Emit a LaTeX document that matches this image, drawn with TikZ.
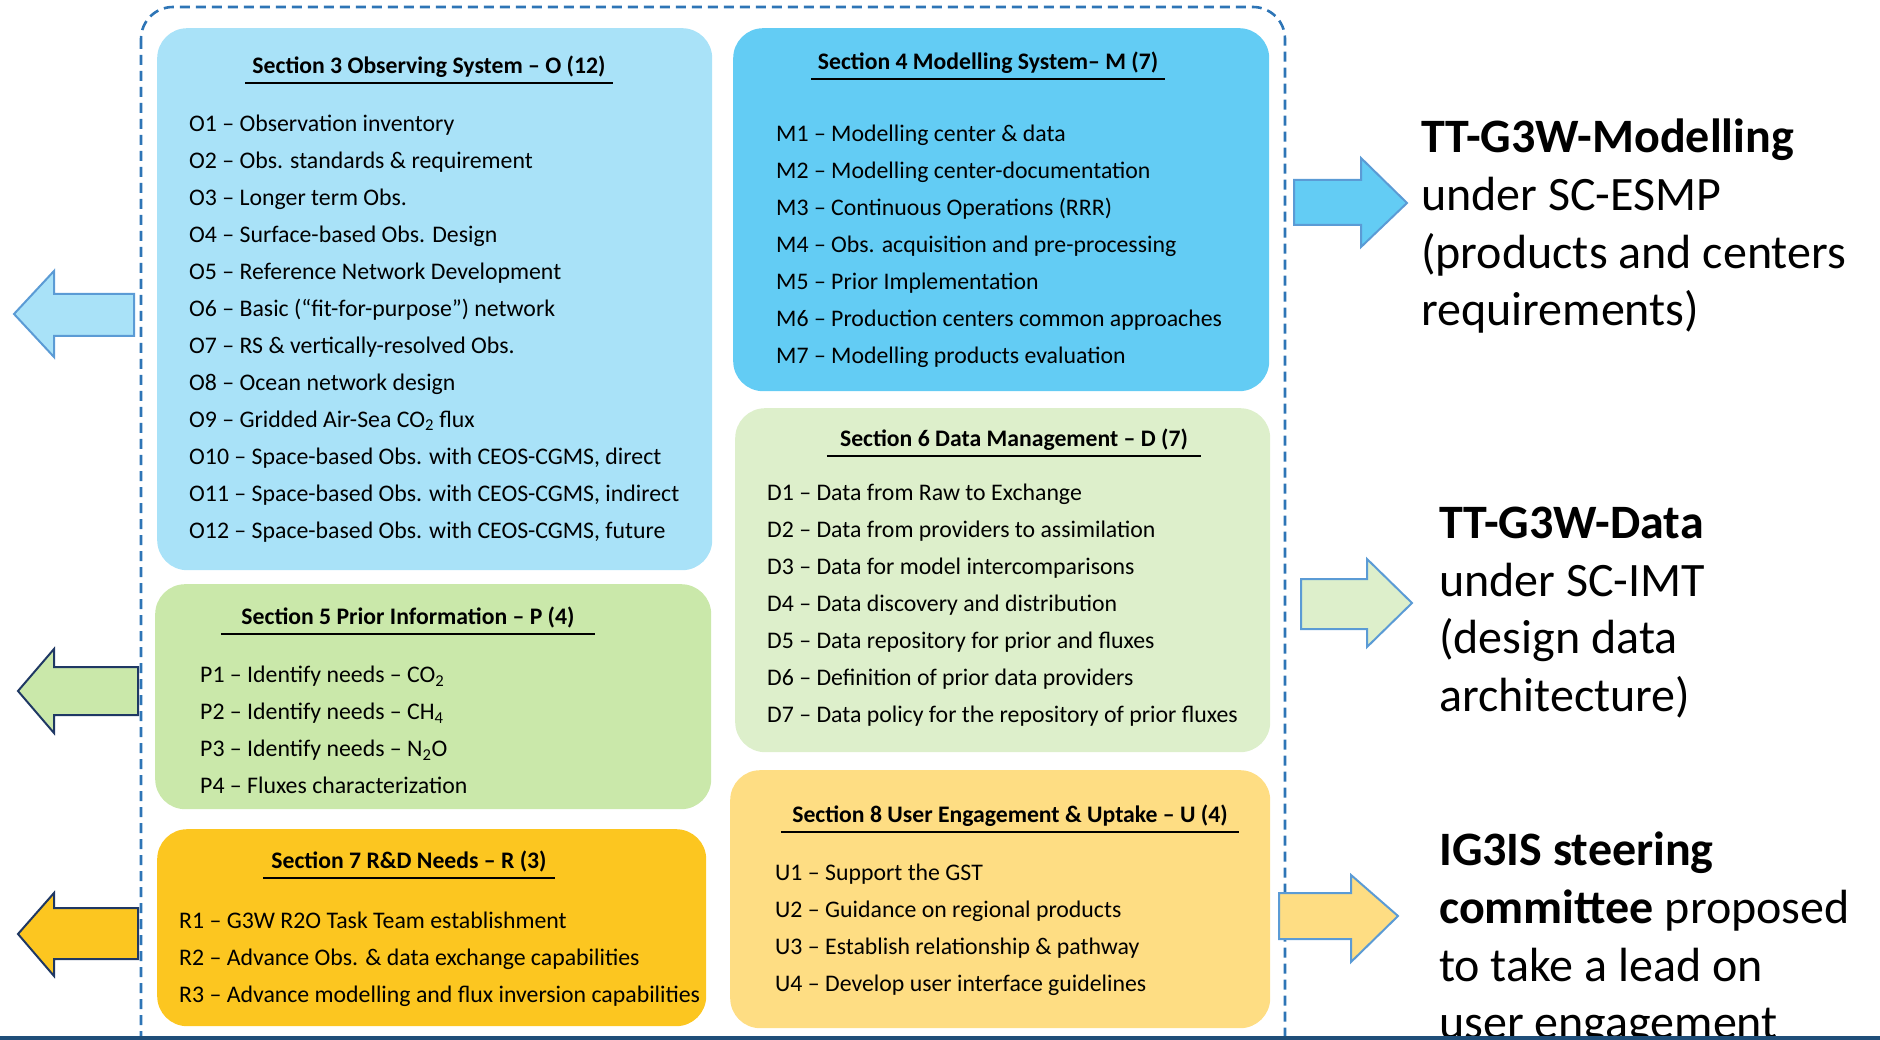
\documentclass[tikz,border=0pt]{standalone}
\usepackage{fontspec}
\setmainfont{Carlito}
\usetikzlibrary{positioning}

\definecolor{obsblue}{HTML}{A9E2F8}
\definecolor{modblue}{HTML}{63CCF4}
\definecolor{priorgreen}{HTML}{CAE8AA}
\definecolor{datagreen}{HTML}{DDEFCB}
\definecolor{rdgold}{HTML}{FCC620}
\definecolor{useryellow}{HTML}{FEDD83}
\definecolor{frameblue}{HTML}{2E75B6}
\definecolor{edgeblue}{HTML}{5B9BD5}
\definecolor{navy}{HTML}{1F3864}
\definecolor{barblue}{HTML}{1F4E79}

\begin{document}
\begin{tikzpicture}[x=1pt,y=-1pt,box/.style={rounded corners=30pt,anchor=north west,inner sep=0pt},head/.style={font=\bfseries\fontsize{23.7}{28}\selectfont,inner sep=0pt,text depth=9pt,anchor=south},uline/.style={line width=2.8pt},list/.style={font=\fontsize{23.8}{37}\selectfont,align=left,anchor=north west,inner sep=0pt},team/.style={font=\fontsize{48}{57.6}\selectfont,align=left,anchor=north west,inner sep=0pt},barrow/.style={line width=2pt},frame/.style={draw=frameblue,line width=2.6pt,dash pattern=on 10pt off 6pt,rounded corners=32pt}]

    \useasboundingbox (0,0) rectangle (1880,1040);
    \draw[frame] (141,7) rectangle (1285,1100);

    \node[box,fill=obsblue,minimum width=555pt,minimum height=542pt] (s3) at (157,28) {};
    \node[box,fill=modblue,minimum width=536pt,minimum height=363pt] (s4) at (733,28) {};
    \node[box,fill=priorgreen,minimum width=556pt,minimum height=225pt] (s5) at (155,584) {};
    \node[box,fill=datagreen,minimum width=535pt,minimum height=344pt] (s6) at (735,408) {};
    \node[box,fill=rdgold,minimum width=549pt,minimum height=197pt] (s7) at (157,829) {};
    \node[box,fill=useryellow,minimum width=540pt,minimum height=258pt] (s8) at (730,770) {};

    \node[head,minimum width=367pt] (h3) at (429,83) {Section 3 Observing System – O (12)};
    \node[head,minimum width=353pt] (h4) at (988,79) {Section 4 Modelling System– M (7)};
    \node[head,minimum width=374pt] (h5) at (408,634) {Section 5 Prior Information – P (4)};
    \node[head,minimum width=374pt] (h6) at (1014,456) {Section 6 Data Management – D (7)};
    \node[head,minimum width=291pt] (h7) at (409,878) {Section 7 R\&D Needs – R (3)};
    \node[head,minimum width=458pt] (h8) at (1010,832) {Section 8 User Engagement \& Uptake – U (4)};

    \draw[uline] (h3.south west) -- (h3.south east);
    \draw[uline] (h4.south west) -- (h4.south east);
    \draw[uline] (h5.south west) -- (h5.south east);
    \draw[uline] (h6.south west) -- (h6.south east);
    \draw[uline] (h7.south west) -- (h7.south east);
    \draw[uline] (h8.south west) -- (h8.south east);

    \node[list] (o) at (189,114.5) {O1 – Observation inventory\\O2 – Obs. standards \& requirement\\O3 – Longer term Obs.\\O4 – Surface-based Obs. Design\\O5 – Reference Network Development\\O6 – Basic (“fit-for-purpose”) network\\O7 – RS \& vertically-resolved Obs.\\O8 – Ocean network design\\O9 – Gridded Air-Sea CO\textsubscript{2} flux\\O10 – Space-based Obs. with CEOS-CGMS, direct\\O11 – Space-based Obs. with CEOS-CGMS, indirect\\O12 – Space-based Obs. with CEOS-CGMS, future};
    \node[list] (m) at (776,125) {M1 – Modelling center \& data\\M2 – Modelling center-documentation\\M3 – Continuous Operations (RRR)\\M4 – Obs. acquisition and pre-processing\\M5 – Prior Implementation\\M6 – Production centers common approaches\\M7 – Modelling products evaluation};
    \node[list] (p) at (200,666) {P1 – Identify needs – CO\textsubscript{2}\\P2 – Identify needs – CH\textsubscript{4}\\P3 – Identify needs – N\textsubscript{2}O\\P4 – Fluxes characterization};
    \node[list] (d) at (767,484) {D1 – Data from Raw to Exchange\\D2 – Data from providers to assimilation\\D3 – Data for model intercomparisons\\D4 – Data discovery and distribution\\D5 – Data repository for prior and fluxes\\D6 – Definition of prior data providers\\D7 – Data policy for the repository of prior fluxes};
    \node[list] (r) at (179,912) {R1 – G3W R2O Task Team establishment\\R2 – Advance Obs. \& data exchange capabilities\\R3 – Advance modelling and flux inversion capabilities};
    \node[list] (u) at (775,864) {U1 – Support the GST\\U2 – Guidance on regional products\\U3 – Establish relationship \& pathway\\U4 – Develop user interface guidelines};

    \draw[barrow,draw=edgeblue,fill=obsblue] (134,294) -- (54,294) -- (54,271) -- (14,314) -- (54,357) -- (54,336) -- (134,336) -- cycle;
    \draw[barrow,draw=navy,fill=priorgreen] (138,667) -- (54,667) -- (54,649) -- (18,691) -- (54,733) -- (54,715) -- (138,715) -- cycle;
    \draw[barrow,draw=navy,fill=rdgold] (138,908) -- (54,908) -- (54,893) -- (18,934) -- (54,976) -- (54,959) -- (138,959) -- cycle;

    \draw[barrow,draw=edgeblue,fill=modblue] (1294,180) -- (1361,180) -- (1361,158) -- (1407,203) -- (1361,247) -- (1361,225) -- (1294,225) -- cycle;
    \draw[barrow,draw=edgeblue,fill=datagreen] (1301,579) -- (1367,579) -- (1367,559) -- (1412,603) -- (1367,647) -- (1367,629) -- (1301,629) -- cycle;
    \draw[barrow,draw=edgeblue,fill=useryellow] (1279,893) -- (1351,893) -- (1351,875) -- (1398,916) -- (1351,962) -- (1351,939) -- (1279,939) -- cycle;

    \node[team] (tmod) at (1421,119) {\textbf{TT-G3W-Modelling}\\under SC-ESMP\\(products and centers\\requirements)};
    \node[team] (tdata) at (1439,507) {\textbf{TT-G3W-Data}\\under SC-IMT\\(design data\\architecture)};
    \node[team] (steer) at (1439,832) {\textbf{IG3IS steering}\\\textbf{committee} proposed\\to take a lead on\\user engagement};

    \fill[barblue] (0,1036) rectangle (1880,1040);

\end{tikzpicture}
\end{document}
